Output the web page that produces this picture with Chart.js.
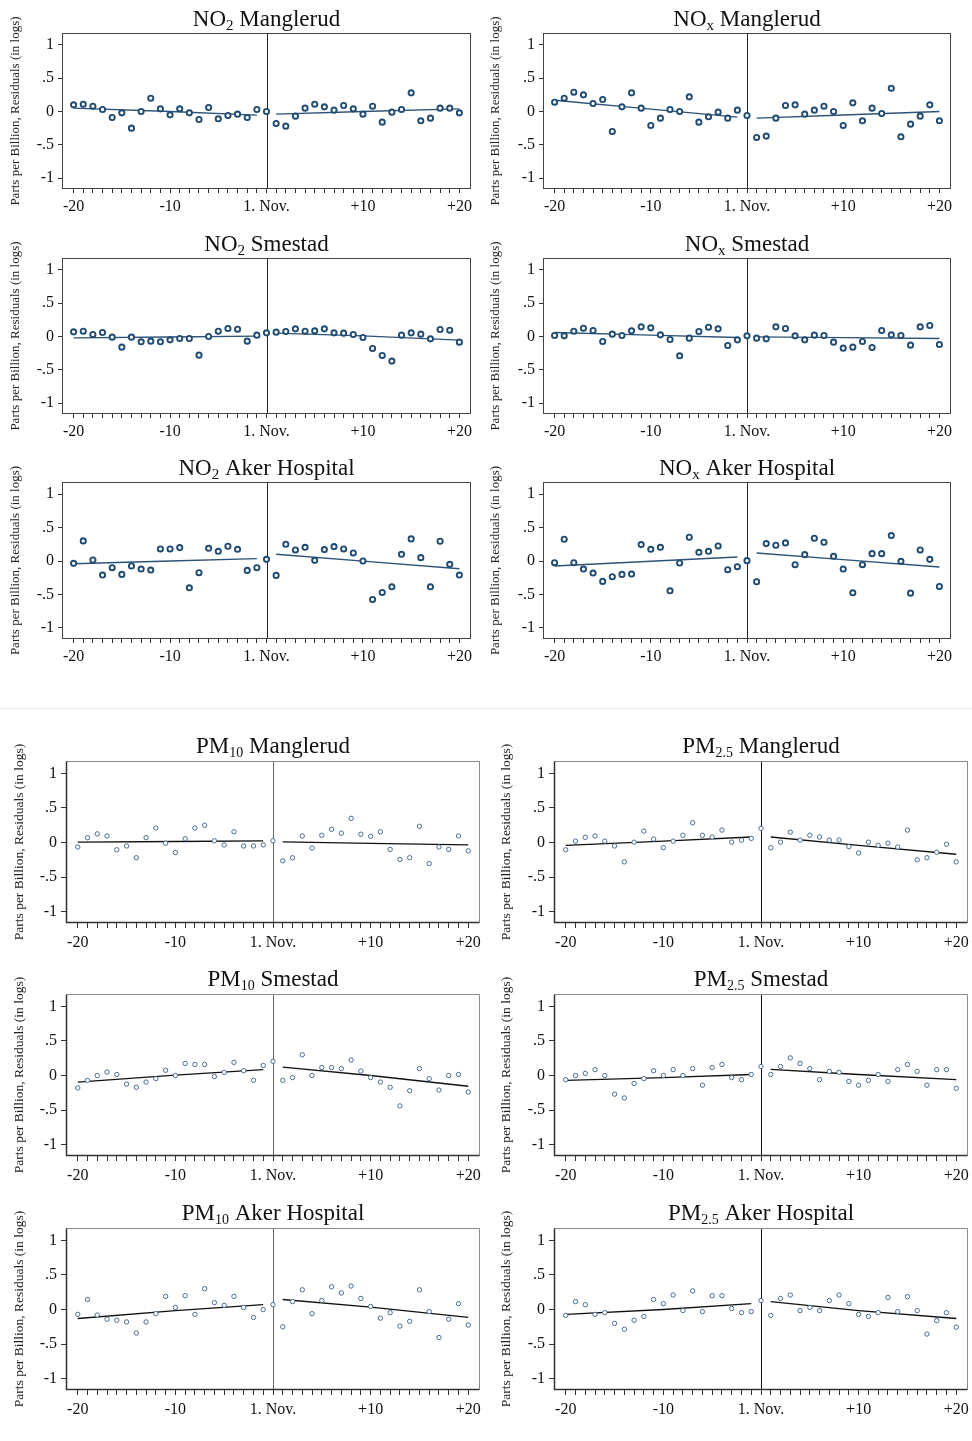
<!DOCTYPE html>
<html>
<head>
<meta charset="utf-8">
<script src="https://cdn.jsdelivr.net/npm/chart.js@4.4.1/dist/chart.umd.min.js"></script>
<style>
body { margin: 0; background: #fff; }
#page { position: relative; width: 972px; height: 1441px; background: #fff; }
#page canvas { position: absolute; }
.sep { position: absolute; left: 0; width: 972px; top: 708px; border-top: 1px solid #ececec; }
</style>
</head>
<body>
<div id="page"><div class="sep"></div></div>
<script>
// days around 1 November
const days = [-20,-19,-18,-17,-16,-15,-14,-13,-12,-11,-10,-9,-8,-7,-6,-5,-4,-3,-2,-1,0,
              1,2,3,4,5,6,7,8,9,10,11,12,13,14,15,16,17,18,19,20];
const xTickVals = [-20, -10, 0, 10, 20];
const xTickLabels = ['-20', '-10', '1. Nov.', '+10', '+20'];
const yTickVals = [-1, -0.5, 0, 0.5, 1];
const yTickLabels = ['-1', '-.5', '0', '.5', '1'];
const yTitle = 'Parts per Billion, Residuals (in logs)';
const fitLeftDays = [-20, -10, -1];
const fitRightDays = [1, 10, 20];

// residuals per station
const no2Manglerud = [0.10,0.11,0.08,0.03,-0.09,-0.02,-0.25,0.00,0.20,0.04,-0.05,0.04,-0.02,-0.12,0.06,-0.11,-0.06,-0.04,-0.09,0.03,
  0.00,-0.18,-0.22,-0.07,0.05,0.11,0.07,0.02,0.09,0.04,-0.04,0.08,-0.16,-0.01,0.03,0.28,-0.14,-0.10,0.05,0.05,-0.02];
const no2ManglerudFitL = [0.05, 0.0, -0.055];
const no2ManglerudFitR = [-0.04, 0.0, 0.04];

const noxManglerud = [0.14,0.20,0.29,0.25,0.12,0.18,-0.30,0.07,0.28,0.05,-0.21,-0.10,0.03,0.00,0.22,-0.16,-0.08,-0.01,-0.10,0.02,
  -0.06,-0.39,-0.37,-0.10,0.09,0.10,-0.04,0.02,0.08,0.00,-0.21,0.13,-0.14,0.05,-0.03,0.35,-0.38,-0.19,-0.07,0.10,-0.14];
const noxManglerudFitL = [0.17, 0.035, -0.085];
const noxManglerudFitR = [-0.10, -0.053, 0.0];

const no2Smestad = [0.07,0.08,0.03,0.06,-0.01,-0.16,-0.01,-0.08,-0.07,-0.08,-0.05,-0.03,-0.03,-0.28,0.00,0.08,0.12,0.11,-0.07,0.02,
  0.055,0.065,0.075,0.115,0.08,0.085,0.115,0.055,0.05,0.03,-0.015,-0.18,-0.285,-0.37,0.02,0.055,0.035,-0.035,0.105,0.095,-0.085];
const no2SmestadFitL = [-0.02, -0.007, 0.005];
const no2SmestadFitR = [0.05, 0.01, -0.055];

const noxSmestad = [0.015,0.01,0.08,0.125,0.09,-0.075,0.035,0.015,0.085,0.145,0.13,0.025,-0.045,-0.29,-0.025,0.075,0.14,0.115,-0.135,-0.05,
  0.01,-0.025,-0.035,0.145,0.12,0.01,-0.05,0.02,0.015,-0.085,-0.175,-0.16,-0.075,-0.165,0.09,0.025,0.015,-0.13,0.145,0.165,-0.12];
const noxSmestadFitL = [0.06, 0.02, -0.015];
const noxSmestadFitR = [-0.005, -0.017, -0.03];

const no2Aker = [-0.035,0.30,0.015,-0.21,-0.10,-0.20,-0.075,-0.12,-0.135,0.18,0.18,0.20,-0.40,-0.175,0.19,0.145,0.22,0.175,-0.14,-0.10,
  0.025,-0.215,0.25,0.165,0.205,0.01,0.17,0.215,0.18,0.12,0.0,-0.575,-0.47,-0.385,0.10,0.33,0.05,-0.385,0.295,-0.05,-0.21];
const no2AkerFitL = [-0.04, 0.0, 0.035];
const no2AkerFitR = [0.10, -0.002, -0.115];

const noxAker = [-0.025,0.325,-0.025,-0.12,-0.18,-0.305,-0.235,-0.20,-0.195,0.245,0.175,0.205,-0.445,-0.03,0.355,0.13,0.145,0.225,-0.13,-0.085,
  0.005,-0.31,0.26,0.235,0.27,-0.055,0.095,0.34,0.28,0.07,-0.12,-0.475,-0.055,0.11,0.11,0.38,-0.005,-0.48,0.165,0.025,-0.38];
const noxAkerFitL = [-0.075, -0.004, 0.06];
const noxAkerFitR = [0.12, 0.02, -0.09];

const pm10Manglerud = [-0.065,0.07,0.125,0.095,-0.105,-0.05,-0.22,0.07,0.21,-0.01,-0.145,0.055,0.21,0.25,0.025,-0.035,0.155,-0.05,-0.05,-0.035,
  0.025,-0.265,-0.22,0.095,-0.08,0.105,0.19,0.135,0.35,0.12,0.09,0.155,-0.10,-0.245,-0.22,0.235,-0.305,-0.065,-0.10,0.095,-0.12];
const pm10ManglerudFitL = [0.005, 0.015, 0.025];
const pm10ManglerudFitR = [0.01, -0.012, -0.035];

const pm25Manglerud = [-0.105,0.02,0.075,0.095,0.02,-0.05,-0.28,0.005,0.165,0.05,-0.075,0.02,0.105,0.285,0.105,0.08,0.18,0.005,0.035,0.06,
  0.205,-0.075,0.005,0.15,0.035,0.105,0.08,0.035,0.035,-0.06,-0.15,0.005,-0.04,-0.01,-0.065,0.18,-0.25,-0.22,-0.14,-0.025,-0.28];
const pm25ManglerudFitL = [-0.04, 0.02, 0.08];
const pm25ManglerudFitR = [0.08, -0.04, -0.17];

const pm10Smestad = [-0.18,-0.07,0.0,0.05,0.015,-0.125,-0.17,-0.095,-0.045,0.075,0.0,0.175,0.16,0.16,-0.015,0.045,0.19,0.07,-0.07,0.145,
  0.205,-0.07,-0.03,0.30,0.0,0.115,0.115,0.10,0.225,0.065,-0.03,-0.095,-0.17,-0.44,-0.22,0.10,-0.045,-0.21,0.0,0.015,-0.24];
const pm10SmestadFitL = [-0.095, 0.005, 0.085];
const pm10SmestadFitR = [0.12, 0.0, -0.155];

const pm25Smestad = [-0.06,0.0,0.03,0.085,0.0,-0.27,-0.325,-0.115,-0.045,0.07,0.0,0.085,0.0,0.10,-0.14,0.115,0.16,-0.03,-0.06,0.015,
  0.13,0.015,0.13,0.255,0.175,0.10,-0.06,0.06,0.045,-0.085,-0.14,-0.07,0.015,-0.085,0.085,0.16,0.06,-0.14,0.085,0.085,-0.185];
const pm25SmestadFitL = [-0.07, -0.03, 0.015];
const pm25SmestadFitR = [0.09, 0.015, -0.06];

const pm10Aker = [-0.07,0.145,-0.08,-0.14,-0.155,-0.18,-0.34,-0.18,-0.06,0.19,0.03,0.20,-0.07,0.30,0.10,0.06,0.19,0.03,-0.115,0.0,
  0.07,-0.25,0.115,0.285,-0.06,0.13,0.33,0.24,0.34,0.16,0.045,-0.125,-0.045,-0.24,-0.17,0.285,-0.03,-0.405,-0.14,0.085,-0.225];
const pm10AkerFitL = [-0.13, -0.015, 0.07];
const pm10AkerFitR = [0.145, 0.035, -0.115];

const pm25Aker = [-0.085,0.115,0.07,-0.07,-0.045,-0.20,-0.285,-0.155,-0.10,0.145,0.085,0.21,-0.015,0.27,-0.03,0.20,0.20,0.015,-0.045,-0.03,
  0.13,-0.085,0.16,0.21,-0.015,0.03,-0.015,0.13,0.21,0.085,-0.07,-0.10,-0.045,0.175,-0.03,0.185,-0.015,-0.355,-0.16,-0.045,-0.255];
const pm25AkerFitL = [-0.07, 0.0, 0.085];
const pm25AkerFitR = [0.115, -0.015, -0.13];

// layout of the two blocks (plot box edges on the page)
const topCols = [{ c: 0, left: 63, right: 470, titleX: 16 }, { c: 486, left: 544, right: 950, titleX: 496 }];
const topRows = [{ top: 34, bottom: 188 }, { top: 259, bottom: 413 }, { top: 483, bottom: 638 }];
const pmCols = [{ c: 0, left: 67, right: 479, titleX: 19 }, { c: 486, left: 555, right: 968, titleX: 506 }];
const pmRows = [{ top: 762, bottom: 922 }, { top: 995, bottom: 1155 }, { top: 1229, bottom: 1389 }];

const styleNO = { pm: false, pointColor: '#1f4a72', pointRadius: 2.6, pointBorder: 1.9, lineColor: '#2c5278', frame: '#444', vline: '#222', tickLen: 5, yTitleSize: 13 };
const stylePM10 = { pm: true, pointColor: '#4a6c92', pointRadius: 2.2, pointBorder: 1, lineColor: '#111', frame: '#333', frameLight: '#8a8a8a', vline: '#666', tickLen: 6, yTitleSize: 13.5 };
const stylePM25 = Object.assign({}, stylePM10, { vline: '#111' });

const panels = [
  { title: [['NO', 0], ['2', 1], [' Manglerud', 0]], vals: no2Manglerud, fitL: no2ManglerudFitL, fitR: no2ManglerudFitR, col: topCols[0], row: topRows[0], st: styleNO },
  { title: [['NO', 0], ['x', 1], [' Manglerud', 0]], vals: noxManglerud, fitL: noxManglerudFitL, fitR: noxManglerudFitR, col: topCols[1], row: topRows[0], st: styleNO },
  { title: [['NO', 0], ['2', 1], [' Smestad', 0]], vals: no2Smestad, fitL: no2SmestadFitL, fitR: no2SmestadFitR, col: topCols[0], row: topRows[1], st: styleNO },
  { title: [['NO', 0], ['x', 1], [' Smestad', 0]], vals: noxSmestad, fitL: noxSmestadFitL, fitR: noxSmestadFitR, col: topCols[1], row: topRows[1], st: styleNO },
  { title: [['NO', 0], ['2', 1], [' Aker Hospital', 0]], vals: no2Aker, fitL: no2AkerFitL, fitR: no2AkerFitR, col: topCols[0], row: topRows[2], st: styleNO },
  { title: [['NO', 0], ['x', 1], [' Aker Hospital', 0]], vals: noxAker, fitL: noxAkerFitL, fitR: noxAkerFitR, col: topCols[1], row: topRows[2], st: styleNO },
  { title: [['PM', 0], ['10', 1], [' Manglerud', 0]], vals: pm10Manglerud, fitL: pm10ManglerudFitL, fitR: pm10ManglerudFitR, col: pmCols[0], row: pmRows[0], st: stylePM10 },
  { title: [['PM', 0], ['2.5', 1], [' Manglerud', 0]], vals: pm25Manglerud, fitL: pm25ManglerudFitL, fitR: pm25ManglerudFitR, col: pmCols[1], row: pmRows[0], st: stylePM25 },
  { title: [['PM', 0], ['10', 1], [' Smestad', 0]], vals: pm10Smestad, fitL: pm10SmestadFitL, fitR: pm10SmestadFitR, col: pmCols[0], row: pmRows[1], st: stylePM10 },
  { title: [['PM', 0], ['2.5', 1], [' Smestad', 0]], vals: pm25Smestad, fitL: pm25SmestadFitL, fitR: pm25SmestadFitR, col: pmCols[1], row: pmRows[1], st: stylePM25 },
  { title: [['PM', 0], ['10', 1], [' Aker Hospital', 0]], vals: pm10Aker, fitL: pm10AkerFitL, fitR: pm10AkerFitR, col: pmCols[0], row: pmRows[2], st: stylePM10 },
  { title: [['PM', 0], ['2.5', 1], [' Aker Hospital', 0]], vals: pm25Aker, fitL: pm25AkerFitL, fitR: pm25AkerFitR, col: pmCols[1], row: pmRows[2], st: stylePM25 }
];

const serif = '"Liberation Serif", "Times New Roman", serif';

// frame, cut-off line and subscripted title
const panelDecor = {
  id: 'panelDecor',
  beforeDatasetsDraw(chart, args, opts) {
    const { ctx, chartArea: a } = chart;
    const st = opts.st;
    const x0 = Math.round(chart.scales.x.getPixelForValue(0)) + 0.5;
    ctx.save();
    ctx.lineWidth = 1;
    ctx.strokeStyle = st.vline;
    ctx.beginPath();
    ctx.moveTo(x0, a.top);
    ctx.lineTo(x0, a.bottom);
    ctx.stroke();
    const l = Math.round(a.left) - 0.5, r = Math.round(a.right) + 0.5;
    const t = Math.round(a.top) - 0.5, b = Math.round(a.bottom) + 0.5;
    if (st.pm) {
      ctx.strokeStyle = st.frameLight;
      ctx.beginPath();
      ctx.moveTo(l, t); ctx.lineTo(r, t); ctx.lineTo(r, b);
      ctx.stroke();
      ctx.strokeStyle = st.frame;
      ctx.lineWidth = 1.5;
      ctx.beginPath();
      ctx.moveTo(l, t); ctx.lineTo(l, b); ctx.lineTo(r, b);
      ctx.stroke();
    } else {
      ctx.strokeStyle = st.frame;
      ctx.strokeRect(l, t, r - l, b - t);
    }
    ctx.restore();
  },
  afterDraw(chart, args, opts) {
    const { ctx, chartArea: a } = chart;
    const parts = opts.title;
    const mainFont = '23px ' + serif;
    const subFont = (opts.st.pm ? '14px ' : '15px ') + serif;
    ctx.save();
    let total = 0;
    parts.forEach(([txt, sub]) => {
      ctx.font = sub ? subFont : mainFont;
      total += ctx.measureText(txt).width;
    });
    let x = (a.left + a.right) / 2 - total / 2;
    const base = a.top - (opts.st.pm ? 9 : 8);
    ctx.fillStyle = '#111';
    ctx.textBaseline = 'alphabetic';
    ctx.textAlign = 'left';
    parts.forEach(([txt, sub]) => {
      ctx.font = sub ? subFont : mainFont;
      ctx.fillText(txt, x, sub ? base + 4 : base);
      x += ctx.measureText(txt).width;
    });
    ctx.restore();
  }
};

const page = document.getElementById('page');

function makePanel(p) {
  const st = p.st;
  const canvasTop = p.row.top - 36;
  const h = p.row.bottom - p.row.top + 36 + 40;
  const cv = document.createElement('canvas');
  cv.width = 486;
  cv.height = h;
  cv.style.left = p.col.c + 'px';
  cv.style.top = canvasTop + 'px';
  cv.style.width = '486px';
  cv.style.height = h + 'px';
  page.appendChild(cv);

  const lh = st.yTitleSize * 1.2;
  const scatterPts = days.map((d, i) => ({ x: d, y: p.vals[i] }));
  const leftPts = fitLeftDays.map((d, i) => ({ x: d, y: p.fitL[i] }));
  const rightPts = fitRightDays.map((d, i) => ({ x: d, y: p.fitR[i] }));
  const fitLine = {
    showLine: true, borderColor: st.lineColor, borderWidth: st.pm ? 1.3 : 1.4,
    pointRadius: 0, tension: 0, order: 2
  };

  new Chart(cv.getContext('2d'), {
    type: 'scatter',
    data: {
      datasets: [
        {
          data: scatterPts, pointStyle: 'circle', pointRadius: st.pointRadius,
          pointBorderWidth: st.pointBorder, pointBorderColor: st.pointColor,
          pointBackgroundColor: '#fff', showLine: false, order: 1
        },
        Object.assign({ data: leftPts }, fitLine),
        Object.assign({ data: rightPts }, fitLine)
      ]
    },
    options: {
      responsive: false,
      animation: false,
      layout: { padding: { left: 0, top: p.row.top - canvasTop, right: p.col.c + 486 - p.col.right, bottom: 0 } },
      plugins: {
        legend: { display: false },
        tooltip: { enabled: false },
        panelDecor: { title: p.title, st: st }
      },
      scales: {
        x: {
          type: 'linear', min: -21.1, max: 21.1,
          afterBuildTicks: s => { s.ticks = days.map(v => ({ value: v })); },
          afterFit: s => { s.height = h - (p.row.bottom - canvasTop); s.paddingLeft = 0; s.paddingRight = 0; },
          ticks: {
            autoSkip: false, maxRotation: 0, padding: st.pm ? 5 : 4,
            color: '#111', font: { family: serif, size: 16 },
            callback: v => { const i = xTickVals.indexOf(v); return i >= 0 ? xTickLabels[i] : ''; }
          },
          grid: { drawOnChartArea: false, drawTicks: true, tickLength: st.tickLen, color: '#333' },
          border: { display: false }
        },
        y: {
          type: 'linear', min: -1.15, max: 1.165,
          afterBuildTicks: s => { s.ticks = yTickVals.map(v => ({ value: v })); },
          afterFit: s => { s.width = p.col.left - p.col.c; s.paddingTop = 0; s.paddingBottom = 0; },
          ticks: {
            padding: 4, color: '#111', font: { family: serif, size: 16 },
            callback: v => { const i = yTickVals.indexOf(v); return i >= 0 ? yTickLabels[i] : ''; }
          },
          grid: { drawOnChartArea: false, drawTicks: true, tickLength: st.tickLen, color: '#333' },
          border: { display: false },
          title: {
            display: true, text: yTitle, color: '#222',
            font: { family: serif, size: st.yTitleSize },
            padding: { top: p.col.titleX - p.col.c - lh / 2, bottom: 0 }
          }
        }
      }
    },
    plugins: [panelDecor]
  });
}

panels.forEach(makePanel);
</script>
</body>
</html>
